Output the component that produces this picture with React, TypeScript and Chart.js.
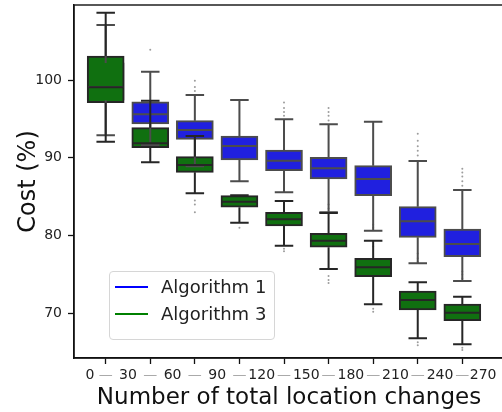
import React, { useEffect, useRef } from 'react';
import { Chart, registerables } from 'chart.js';

Chart.register(...registerables);

// ---------- data ----------
const xTickLabels = ['0', '30', '60', '90', '120', '150', '180', '210', '240', '270'];
const positions = [0, 1, 2, 3, 4, 5, 6, 7, 8];
const yTicks = [70, 80, 90, 100];

// Algorithm 1 (blue)
const a1WhiskerLow = [92.9, 91.65, 88.9, 87.0, 85.56, 83.0, 80.63, 76.44, 74.16];
const a1Q1 = [97.4, 94.34, 92.37, 89.72, 88.34, 87.28, 85.13, 79.78, 77.29];
const a1Median = [99.1, 95.59, 93.57, 91.52, 89.63, 88.65, 87.28, 81.84, 78.92];
const a1Q3 = [102.2, 97.21, 94.77, 92.8, 91.0, 90.06, 88.99, 83.72, 80.85];
const a1WhiskerHigh = [107.07, 101.07, 98.07, 97.43, 94.95, 94.3, 94.64, 89.59, 85.86];
const a1Fliers = [
  [], [103.9], [98.6, 99.1, 99.9], [], [95.4, 95.9, 96.4, 97.1],
  [94.8, 95.4, 95.9, 96.4], [78.6], [90.3, 90.9, 91.5, 92.2, 93.1], [86.4, 87.0, 87.6, 88.1, 88.6],
];

// Algorithm 3 (green)
const a3WhiskerLow = [92.07, 89.42, 85.44, 81.66, 78.7, 75.71, 71.17, 66.8, 66.03];
const a3Q1 = [97.08, 91.3, 88.13, 83.64, 81.23, 78.5, 74.72, 70.44, 69.06];
const a3Median = [99.06, 91.86, 89.07, 84.36, 82.09, 79.35, 75.92, 71.72, 70.09];
const a3Q3 = [103.08, 93.87, 90.15, 85.13, 82.99, 80.3, 77.08, 72.88, 71.21];
const a3WhiskerHigh = [108.65, 97.34, 92.8, 85.2, 84.45, 82.9, 79.35, 74.0, 72.15];
const a3Fliers = [
  [], [], [84.5, 84.0, 83.0], [81.0], [85.9, 86.3, 78.3, 78.0],
  [83.5, 84.0, 74.8, 74.3, 73.9], [81.0, 81.4, 70.6, 70.2], [76.6, 77.1, 77.7, 66.3, 65.9], [74.5, 75.0, 75.4, 65.6, 65.3],
];

// ---------- style ----------
const FONT = "'DejaVu Sans', sans-serif";
const A1_FILL = '#2020df';
const A1_EDGE = '#4c4c4c';
const A3_FILL = '#107010';
const A3_EDGE = '#262626';
const BOX_W = 37;
const X_MIN = -0.711;
const X_MAX = 8.935;
const Y_MIN = 64.27;
const Y_MAX = 109.64;

// x tick list: numbers between boxes, grey dashes at box positions
const xTicks: { v: number; l: string; dash: boolean }[] = [];
xTickLabels.forEach((lab, k) => {
  let v: number;
  if (k === 0) v = (X_MIN + positions[0]) / 2;
  else if (k === xTickLabels.length - 1) v = (positions[positions.length - 1] + X_MAX) / 2;
  else v = positions[k] - 0.5;
  xTicks.push({ v, l: lab, dash: false });
  if (k < positions.length) xTicks.push({ v: positions[k], l: '\u2014', dash: true });
});

const series = [
  { low: a1WhiskerLow, q1: a1Q1, med: a1Median, q3: a1Q3, high: a1WhiskerHigh, edge: A1_EDGE },
  { low: a3WhiskerLow, q1: a3Q1, med: a3Median, q3: a3Q3, high: a3WhiskerHigh, edge: A3_EDGE },
];

const boxLinesPlugin = {
  id: 'boxLines',
  afterDatasetsDraw(chart: any) {
    const { ctx, scales } = chart;
    const xs = scales.x;
    const ys = scales.y;
    const half = BOX_W / 2;
    const capHalf = BOX_W / 4;
    ctx.save();
    ctx.lineWidth = 2;
    ctx.lineCap = 'butt';
    series.forEach((s) => {
      ctx.strokeStyle = s.edge;
      positions.forEach((p, i) => {
        const cx = xs.getPixelForValue(p);
        const yLow = ys.getPixelForValue(s.low[i]);
        const yQ1 = ys.getPixelForValue(s.q1[i]);
        const yMed = ys.getPixelForValue(s.med[i]);
        const yQ3 = ys.getPixelForValue(s.q3[i]);
        const yHigh = ys.getPixelForValue(s.high[i]);
        ctx.beginPath();
        ctx.moveTo(cx, yQ3);
        ctx.lineTo(cx, yHigh);
        ctx.moveTo(cx, yQ1);
        ctx.lineTo(cx, yLow);
        ctx.moveTo(cx - capHalf, yHigh);
        ctx.lineTo(cx + capHalf, yHigh);
        ctx.moveTo(cx - capHalf, yLow);
        ctx.lineTo(cx + capHalf, yLow);
        ctx.moveTo(cx - half + 1, yMed);
        ctx.lineTo(cx + half - 1, yMed);
        ctx.stroke();
      });
    });
    ctx.restore();
  },
};

const framePlugin = {
  id: 'frame',
  afterDraw(chart: any) {
    const { ctx, chartArea } = chart;
    ctx.save();
    ctx.strokeStyle = '#111';
    ctx.lineWidth = 1.4;
    ctx.strokeRect(chartArea.left, chartArea.top, chartArea.right - chartArea.left, chartArea.bottom - chartArea.top);
    ctx.restore();
  },
};

export default function App() {
  const ref = useRef<HTMLCanvasElement | null>(null);

  useEffect(() => {
    if (!ref.current) return;
    const flierPoints = (arr: number[][]) =>
      arr.flatMap((vals, i) => vals.map((v) => ({ x: positions[i], y: v })));

    const chart = new Chart(ref.current, {
      type: 'bar',
      data: {
        datasets: [
          {
            type: 'bar',
            label: 'Algorithm 1',
            data: positions.map((p, i) => ({ x: p, y: [a1Q1[i], a1Q3[i]] })) as any,
            backgroundColor: A1_FILL,
            borderColor: A1_EDGE,
            borderWidth: 2,
            borderSkipped: false,
            barThickness: BOX_W,
            grouped: false,
            order: 3,
          },
          {
            type: 'bar',
            label: 'Algorithm 3',
            data: positions.map((p, i) => ({ x: p, y: [a3Q1[i], a3Q3[i]] })) as any,
            backgroundColor: A3_FILL,
            borderColor: A3_EDGE,
            borderWidth: 2,
            borderSkipped: false,
            barThickness: BOX_W,
            grouped: false,
            order: 2,
          },
          {
            type: 'scatter',
            label: 'fliers1',
            data: flierPoints(a1Fliers) as any,
            pointRadius: 1,
            pointBorderWidth: 0,
            backgroundColor: 'rgba(90,90,90,0.6)',
            order: 1,
          } as any,
          {
            type: 'scatter',
            label: 'fliers3',
            data: flierPoints(a3Fliers) as any,
            pointRadius: 1,
            pointBorderWidth: 0,
            backgroundColor: 'rgba(90,90,90,0.6)',
            order: 0,
          } as any,
        ],
      },
      options: {
        animation: false,
        responsive: false,
        maintainAspectRatio: false,
        layout: { padding: { left: 0, right: 16, top: 5, bottom: 0 } },
        plugins: {
          legend: { display: false },
          tooltip: { enabled: false },
        },
        scales: {
          x: {
            type: 'linear',
            min: X_MIN,
            max: X_MAX,
            offset: false,
            afterFit: (scale: any) => {
              scale.height = 54;
              scale.paddingLeft = 0;
              scale.paddingRight = 0;
            },
            afterBuildTicks: (scale: any) => { scale.ticks = xTicks.map((t) => ({ value: t.v })); },
            border: { display: true, color: '#111', width: 1.4 },
            grid: {
              display: true,
              drawOnChartArea: false,
              drawTicks: true,
              tickLength: 6,
              tickWidth: 1.3,
              offset: false,
              tickColor: (c: any) => (xTicks[c.index] && xTicks[c.index].dash ? '#111' : 'rgba(0,0,0,0)'),
            },
            ticks: {
              autoSkip: false,
              maxRotation: 0,
              minRotation: 0,
              padding: 3,
              font: { family: FONT, size: 14 },
              color: (c: any) => (xTicks[c.index] && xTicks[c.index].dash ? '#aaaaaa' : '#222222'),
              callback: (_v: any, i: number) => (xTicks[i] ? xTicks[i].l : ''),
            },
            title: {
              display: true,
              text: 'Number of total location changes',
              color: '#111',
              font: { family: FONT, size: 23 },
              padding: { top: 0, bottom: 0 },
            },
          },
          y: {
            type: 'linear',
            min: Y_MIN,
            max: Y_MAX,
            afterFit: (scale: any) => {
              scale.width = 74;
              scale.paddingTop = 0;
              scale.paddingBottom = 0;
            },
            afterBuildTicks: (scale: any) => { scale.ticks = yTicks.map((v) => ({ value: v })); },
            border: { display: true, color: '#111', width: 1.4 },
            grid: {
              display: true,
              drawOnChartArea: false,
              drawTicks: true,
              tickLength: 6,
              tickWidth: 1.3,
              tickColor: '#111',
            },
            ticks: {
              padding: 6,
              font: { family: FONT, size: 14 },
              color: '#222222',
            },
            title: {
              display: true,
              text: 'Cost (%)',
              color: '#111',
              font: { family: FONT, size: 24 },
              padding: { top: 14, bottom: 0 },
            },
          },
        },
      },
      plugins: [boxLinesPlugin, framePlugin],
    });
    return () => chart.destroy();
  }, []);

  const legendRow = (color: string, text: string, center: number) => (
    <>
      <div style={{ position: 'absolute', left: 5, top: center - 1, width: 33, height: 2, background: color }} />
      <div
        style={{
          position: 'absolute',
          left: 51,
          top: center - 11,
          height: 22,
          lineHeight: '22px',
          fontSize: 18,
          fontFamily: FONT,
          color: '#222',
          whiteSpace: 'nowrap',
        }}
      >
        {text}
      </div>
    </>
  );

  return (
    <div style={{ position: 'fixed', left: 0, top: 0, width: 502, height: 412, overflow: 'hidden', background: '#fff' }}>
      <canvas ref={ref} width={520} height={412} style={{ display: 'block', width: 520, height: 412 }} />
      <div
        style={{
          position: 'absolute',
          left: 109,
          top: 271,
          width: 166,
          height: 69,
          boxSizing: 'border-box',
          border: '1px solid #d6d6d6',
          borderRadius: 4,
          background: 'rgba(255,255,255,0.8)',
        }}
      >
        {legendRow('#0000ff', 'Algorithm 1', 15)}
        {legendRow('#008000', 'Algorithm 3', 41.5)}
      </div>
    </div>
  );
}
